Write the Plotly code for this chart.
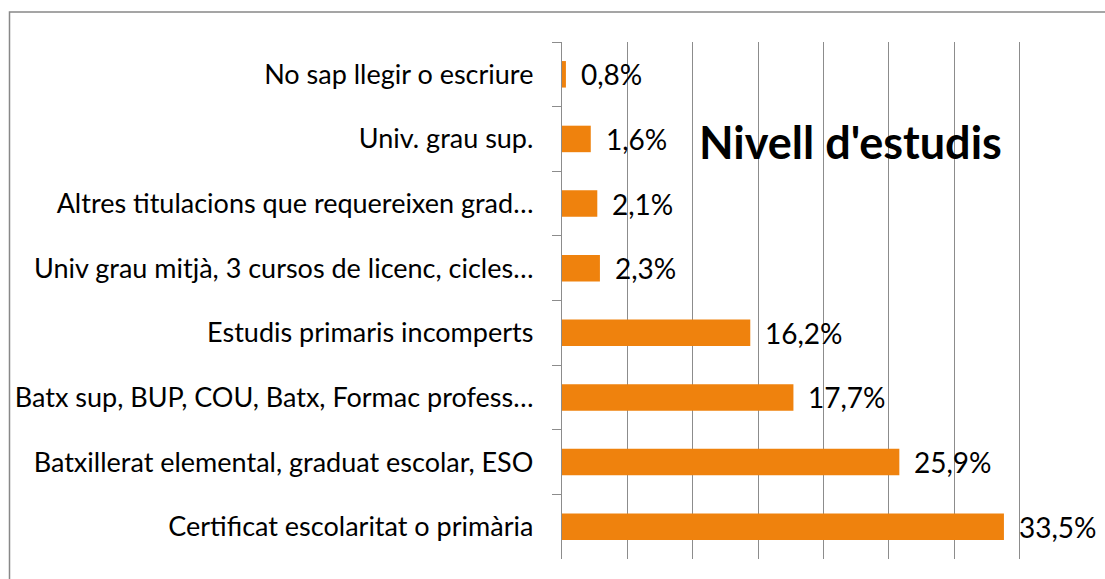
import plotly.graph_objects as go

categories = [
    "No sap llegir o escriure",
    "Univ. grau sup.",
    "Altres titulacions que requereixen grad…",
    "Univ grau mitjà, 3 cursos de licenc, cicles…",
    "Estudis primaris incomperts",
    "Batx sup, BUP, COU, Batx, Formac profess…",
    "Batxillerat elemental, graduat escolar, ESO",
    "Certificat escolaritat o primària",
]
# bar lengths as drawn in the picture (percent)
bar_values = [0.3, 2.2, 2.7, 2.9, 14.4, 17.7, 25.8, 33.8]
# data labels as printed in the picture
value_labels = ["0,8%", "1,6%", "2,1%", "2,3%", "16,2%", "17,7%", "25,9%", "33,5%"]
title_text = "Nivell d'estudis"

FONT = "Lato"
W, H = 1105, 579
L, R, T, B = 562, 20, 42, 20
pw, ph = W - L - R, H - T - B

fig = go.Figure()
fig.add_trace(go.Bar(
    y=categories, x=bar_values, orientation="h",
    marker=dict(color="#EF820D", line=dict(width=0)),
    width=0.41, hoverinfo="skip",
))

for c, v, t in zip(categories, bar_values, value_labels):
    fig.add_annotation(x=v, y=c, text=t, showarrow=False, xanchor="left",
                       yanchor="middle", xshift=13,
                       font=dict(family=FONT, size=28, color="#000000"))

fig.add_annotation(xref="paper", yref="paper", x=0.551, y=0.806, text="<b>" + title_text + "</b>",
                   showarrow=False, xanchor="center", yanchor="middle",
                   font=dict(family=FONT, size=45, color="#000000"))

# outer chart border
def px_x(p):
    return (p - L) / pw

def px_y(p):
    return (H - B - p) / ph

fig.add_shape(type="rect", xref="paper", yref="paper",
              x0=px_x(9.5), x1=px_x(1115), y0=px_y(590), y1=px_y(12),
              line=dict(color="#888888", width=1.5), fillcolor="rgba(0,0,0,0)", layer="below")

fig.update_layout(
    width=W, height=H,
    margin=dict(l=L, r=R, t=T, b=B, pad=0),
    paper_bgcolor="white", plot_bgcolor="white",
    showlegend=False,
    font=dict(family=FONT, size=27, color="#000000"),
    xaxis=dict(range=[0, 40], dtick=5, showgrid=True, gridcolor="#8C8C8C", gridwidth=1.2,
               showticklabels=False, zeroline=False, showline=False, ticks="", fixedrange=True),
    yaxis=dict(type="category", autorange="reversed", showline=True, linecolor="#8C8C8C",
               linewidth=1.2, ticks="outside", tickson="boundaries", ticklen=9,
               tickcolor="#8C8C8C", ticklabelstandoff=22, showgrid=False, fixedrange=True,
               tickfont=dict(family=FONT, size=27, color="#000000")),
)

fig.write_html("out.html", config={"displayModeBar": False, "staticPlot": True},
               post_script="document.body.style.margin='0';document.body.style.overflow='hidden';")
